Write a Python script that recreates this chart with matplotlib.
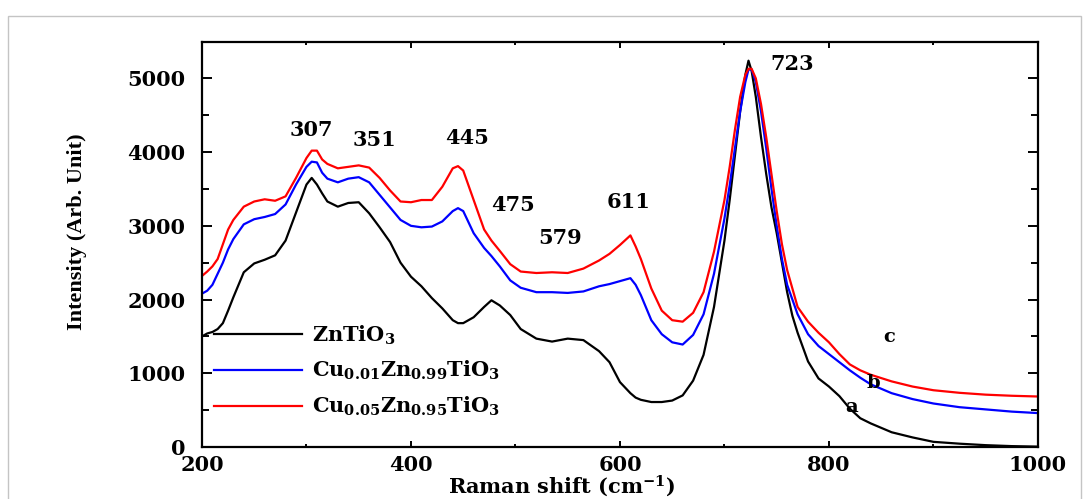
import matplotlib

matplotlib.use("Agg")
import matplotlib.pyplot as plt
from matplotlib.patches import Rectangle
from matplotlib.ticker import MultipleLocator

# Raman shift grid (cm^-1) shared by the three spectra
shift = [200, 205, 210, 215, 220, 225, 230, 240, 250, 260, 270, 280, 290, 300,
         305, 310, 315, 320, 330, 340, 350, 360, 370, 380, 390, 400, 410, 420,
         430, 440, 445, 450, 460, 470, 477, 485, 495, 505, 520, 535, 550, 565,
         580, 590, 600, 610, 615, 620, 630, 640, 650, 660, 670, 680, 690, 700,
         705, 710, 715, 720, 723, 726, 730, 735, 740, 745, 750, 755, 760, 765,
         770, 780, 790, 800, 810, 820, 830, 840, 860, 880, 900, 925, 950, 975,
         1000]

zn_tio3 = [1500, 1540, 1560, 1600, 1680, 1850, 2030, 2370, 2490, 2540, 2600,
           2800, 3180, 3560, 3650, 3560, 3440, 3330, 3260, 3310, 3320, 3170,
           2980, 2780, 2500, 2310, 2180, 2020, 1880, 1720, 1680, 1680, 1760,
           1900, 1990, 1920, 1790, 1600, 1470, 1430, 1470, 1450, 1300, 1150,
           880, 730, 670, 640, 610, 610, 630, 700, 900, 1250, 1900, 2800, 3350,
           3950, 4550, 5050, 5240, 5100, 4750, 4200, 3700, 3250, 2900, 2500,
           2100, 1780, 1550, 1160, 930, 820, 690, 520, 390, 320, 200, 130, 70,
           45, 25, 12, 5]

cu001 = [2080, 2120, 2200, 2350, 2500, 2680, 2820, 3020, 3090, 3120, 3160,
         3290, 3560, 3800, 3870, 3860, 3720, 3640, 3590, 3640, 3660, 3590,
         3420, 3250, 3080, 3000, 2980, 2990, 3060, 3200, 3240, 3200, 2900,
         2700, 2590, 2450, 2260, 2160, 2100, 2100, 2090, 2110, 2180, 2210,
         2250, 2290, 2200, 2060, 1720, 1530, 1420, 1390, 1520, 1800, 2350,
         3100, 3550, 4050, 4550, 4950, 5120, 5120, 4950, 4550, 4050, 3500,
         3000, 2550, 2200, 2000, 1800, 1530, 1370, 1260, 1150, 1040, 940, 850,
         730, 650, 590, 540, 510, 480, 460]

cu005 = [2320, 2380, 2450, 2550, 2750, 2950, 3080, 3260, 3330, 3360, 3340,
         3400, 3650, 3920, 4020, 4020, 3900, 3840, 3780, 3800, 3820, 3790,
         3650, 3480, 3330, 3320, 3350, 3350, 3530, 3780, 3810, 3750, 3350,
         2950, 2800, 2660, 2480, 2380, 2360, 2370, 2360, 2420, 2530, 2620,
         2740, 2870, 2720, 2550, 2150, 1850, 1720, 1700, 1820, 2100, 2650,
         3350, 3800, 4300, 4750, 5050, 5130, 5130, 5000, 4650, 4200, 3700,
         3200, 2750, 2400, 2150, 1900, 1700, 1550, 1420, 1260, 1120, 1040, 980,
         890, 820, 770, 735, 710, 695, 685]

series_labels = [
    r"$\mathbf{ZnTiO}_{\mathbf{3}}$",
    r"$\mathbf{Cu}_{\mathbf{0.01}}\mathbf{Zn}_{\mathbf{0.99}}\mathbf{TiO}_{\mathbf{3}}$",
    r"$\mathbf{Cu}_{\mathbf{0.05}}\mathbf{Zn}_{\mathbf{0.95}}\mathbf{TiO}_{\mathbf{3}}$",
]
series_colors = ["black", "#0000ff", "#ff0000"]

# peak annotations
peak_labels = ["307", "351", "445", "475", "579", "611", "723"]
peak_x = [305, 365, 454, 498, 543, 608, 765]
peak_y = [4300, 4160, 4190, 3280, 2830, 3320, 5200]

curve_letters = ["a", "b", "c"]
letter_x = [822, 842, 858]
letter_y = [540, 870, 1490]

plt.rcParams.update({
    "font.family": "DejaVu Serif",
    "font.weight": "bold",
    "mathtext.fontset": "dejavuserif",
    "axes.linewidth": 1.6,
})

fig = plt.figure(figsize=(10.83, 4.99), dpi=100)
fig.patches.append(Rectangle((8 / 1083, -0.02), 1073 / 1083, 1.02 - 16 / 499,
                             transform=fig.transFigure, fill=False,
                             edgecolor="#c4c4c4", lw=1.0, clip_on=False))

ax = fig.add_axes([0.1865, 0.1042, 0.7719, 0.8126])
for y, col, lab in zip([zn_tio3, cu001, cu005], series_colors, series_labels):
    ax.plot(shift, y, color=col, lw=1.6, label=lab)

ax.set_xlim(200, 1000)
ax.set_ylim(0, 5500)
ax.xaxis.set_major_locator(MultipleLocator(200))
ax.xaxis.set_minor_locator(MultipleLocator(100))
ax.yaxis.set_major_locator(MultipleLocator(1000))
ax.yaxis.set_minor_locator(MultipleLocator(500))
ax.tick_params(which="both", direction="in", top=True, right=True,
               width=1.4, labelsize=15)
ax.tick_params(axis="x", which="major", length=4, pad=6)
ax.tick_params(axis="x", which="minor", length=2.5)
ax.tick_params(axis="y", which="major", length=7, pad=12)
ax.tick_params(axis="y", which="minor", length=5)

for t, x, y in zip(peak_labels, peak_x, peak_y):
    ax.text(x, y, t, fontsize=15, fontweight="bold", ha="center", va="center")
for t, x, y in zip(curve_letters, letter_x, letter_y):
    ax.text(x, y, t, fontsize=14, fontweight="bold", ha="center", va="center")

ax.set_xlabel(r"Raman shift (cm$^{\mathbf{-1}}$)", fontsize=15,
              fontweight="bold")
ax.xaxis.set_label_coords(0.43, -0.066)
ax.set_ylabel("Intensity (Arb. Unit)", fontsize=16, fontweight="bold",
              family="Liberation Serif")
ax.yaxis.set_label_coords(-0.138, 0.53)

ax.legend(loc="lower left", bbox_to_anchor=(0.0, 0.04), frameon=False,
          fontsize=15, handlelength=4.2, handletextpad=0.5, labelspacing=0.6,
          borderaxespad=0.2)

fig.savefig("out.png", dpi=100)
